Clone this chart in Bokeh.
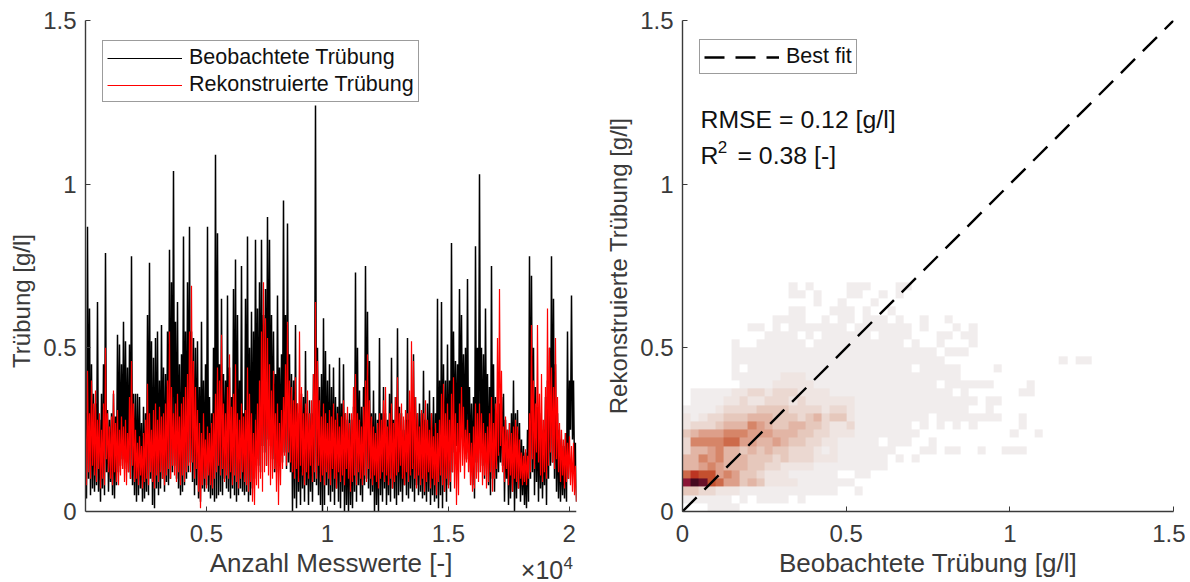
from bokeh.plotting import figure
from bokeh.layouts import row
from bokeh.models import Label, Legend, LegendItem, LinearColorMapper, Range1d
from bokeh.embed import file_html
from bokeh.resources import INLINE
import numpy as np

FONT = "Liberation Sans"
INK = "#3a3a3a"

x_span_measurements = 20300
x_ticks = [5000, 10000, 15000, 20000]
x_tick_labels = ["0.5", "1", "1.5", "2"]
y_ticks = [0, 0.5, 1, 1.5]
y_tick_labels = ["0", "0.5", "1", "1.5"]

obs_1 = [.30,.04,.87,.10,.62,.05,.45,.07,.36,.06,.33,.08,.64,.06,.28,.03,.36,.07,.45,.05,
         .79,.12,.31,.06,.28,.09,.30,.05,.36,.04,.29,.08,.54,.12,.51,.14,.45,.16,.58,.13,
         .52,.15,.44,.12,.51,.10,.78,.08,.36,.05,.36,.03,.36,.05,.35,.07,.27,.03,.32,.04,
         .30,.06,.60,.05,.76,.10,.52,.02,.47,.01,.53,.07,.55,.05,.40,.07,.57,.10,.44,.06,
         .42,.09,.55,.08,.80,.10,.70,.12,1.04,.14,.58,.10,.64,.07,.45,.05,.48,.06,.84,.08]
obs_2 = [.55,.10,.70,.12,.87,.15,.55,.09,.53,.05,.50,.08,.52,.04,.38,.03,.58,.07,.40,.06,
         .45,.08,.87,.06,.35,.04,.30,.05,.50,.03,1.09,.04,.85,.05,.45,.06,.65,.05,.42,.10,
         .40,.07,.66,.06,.44,.04,.35,.07,.68,.05,.77,.03,.60,.05,.40,.07,.75,.06,.30,.05,
         .65,.06,.84,.03,.50,.05,.61,.07,.55,.10,.83,.16,.62,.14,.70,.12,.83,.20,.60,.18,
         .68,.14,.90,.22,.83,.20,.60,.16,.55,.12,.42,.12,.66,.15,.44,.17,.48,.15,.95,.18]
obs_3 = [.60,.13,.88,.15,.48,.12,.42,.00,.40,.04,.57,.01,.33,.06,.30,.02,.36,.07,.35,.03,
         .49,.08,.30,.02,.34,.06,.30,.03,.42,.09,1.24,.08,.50,.05,.38,.02,.42,.00,.59,.02,
         .49,.08,.40,.05,.45,.03,.38,.06,.44,.02,.35,.07,.32,.03,.47,.01,.33,.06,.45,.00,
         .30,.02,.28,.00,.30,.02,.28,.01,.32,.06,.73,.03,.50,.08,.37,.05,.32,.03,.38,.08,
         .75,.10,.61,.07,.46,.05,.30,.06,.37,.00,.30,.02,.28,.00,.53,.05,.30,.03,.38,.07]
obs_4 = [.30,.02,.28,.05,.36,.03,.47,.07,.28,.04,.35,.02,.56,.05,.32,.06,.30,.03,.25,.08,
         .28,.05,.53,.04,.28,.07,.30,.06,.48,.03,.35,.08,.30,.05,.33,.06,.30,.04,.43,.05,
         .28,.03,.33,.06,.37,.02,.30,.05,.35,.03,.30,.04,.65,.01,.40,.05,.64,.01,.45,.06,
         .40,.03,.51,.08,.40,.06,.82,.12,.55,.18,.46,.20,.45,.20,.68,.24,.60,.22,.48,.20,
         .50,.16,.71,.18,.38,.12,.33,.08,.35,.04,.81,.15,.50,.12,1.03,.20,.50,.14,.48,.10]
obs_5 = [.62,.16,.42,.08,.38,.05,.75,.10,.45,.06,.35,.10,.30,.12,.33,.15,.35,.14,.36,.03,
         .28,.10,.25,.02,.27,.04,.30,.06,.40,.00,.30,.04,.31,.07,.27,.03,.22,.05,.20,.02,
         .18,.01,.25,.03,.78,.10,.72,.12,.50,.05,.38,.09,.32,.03,.30,.07,.28,.04,.25,.08,
         .35,.02,.40,.10,.50,.14,.78,.15,.65,.10,.45,.06,.30,.04,.25,.03,.22,.05,.20,.04,
         .24,.03,.55,.10,.40,.25,.66,.22,.40,.12,.21,.03]

# reconstructed turbidity, same reading
rec_1 = [.25,.08,.43,.12,.30,.10,.40,.14,.33,.11,.37,.09,.28,.13,.30,.07,.25,.10,.33,.08,
         .50,.16,.30,.12,.26,.10,.29,.08,.37,.12,.27,.09,.31,.08,.25,.11,.29,.13,.26,.09,
         .28,.08,.24,.12,.35,.10,.46,.14,.33,.09,.25,.10,.21,.08,.23,.11,.20,.07,.24,.09,
         .28,.10,.39,.08,.30,.12,.25,.09,.31,.07,.33,.11,.28,.09,.32,.12,.29,.10,.30,.08,
         .33,.11,.40,.13,.55,.10,.38,.14,.30,.11,.33,.09,.36,.12,.29,.08,.33,.11,.35,.09]
rec_2 = [.38,.12,.42,.14,.55,.12,.69,.15,.46,.10,.38,.13,.31,.06,.27,.01,.24,.08,.30,.10,
         .22,.07,.26,.11,.24,.08,.27,.07,.30,.10,.36,.12,.44,.14,.40,.11,.54,.13,.33,.09,
         .30,.11,.38,.10,.48,.12,.32,.08,.36,.11,.45,.09,.30,.07,.28,.10,.33,.12,.29,.09,
         .31,.08,.44,.06,.36,.09,.30,.03,.24,.02,.28,.08,.33,.07,.40,.10,.55,.06,.70,.12,
         .59,.14,.53,.11,.45,.08,.37,.10,.43,.13,.30,.06,.33,.02,.27,.08,.31,.13,.35,.17]
rec_3 = [.45,.14,.58,.18,.40,.15,.38,.12,.34,.10,.41,.13,.33,.09,.55,.14,.38,.11,.30,.08,
         .33,.12,.37,.10,.30,.14,.34,.09,.42,.12,.64,.10,.46,.14,.34,.09,.29,.11,.33,.08,
         .30,.12,.27,.10,.31,.08,.29,.13,.33,.10,.28,.07,.30,.12,.26,.09,.29,.11,.34,.08,
         .30,.13,.32,.10,.27,.06,.30,.09,.38,.11,.42,.08,.30,.12,.28,.10,.26,.08,.32,.11,
         .40,.09,.48,.13,.34,.10,.29,.08,.26,.11,.24,.09,.27,.07,.30,.10,.28,.12,.34,.09]
rec_4 = [.38,.11,.26,.08,.30,.10,.33,.07,.27,.09,.35,.11,.41,.12,.30,.14,.33,.10,.29,.08,
         .31,.12,.30,.09,.37,.11,.52,.13,.46,.10,.35,.07,.30,.11,.26,.08,.31,.10,.30,.06,
         .34,.09,.28,.12,.25,.07,.30,.10,.23,.08,.27,.05,.24,.09,.28,.11,.36,.08,.39,.06,
         .30,.10,.33,.07,.28,.09,.36,.12,.41,.07,.30,.02,.27,.05,.33,.12,.38,.14,.32,.10,
         .25,.15,.28,.12,.24,.08,.21,.06,.26,.07,.33,.10,.30,.09,.33,.12,.30,.08,.27,.11]
rec_5 = [.24,.07,.26,.09,.30,.12,.35,.06,.27,.10,.33,.13,.53,.17,.68,.20,.43,.12,.26,.09,
         .29,.13,.25,.08,.27,.11,.24,.06,.26,.10,.28,.09,.26,.07,.22,.10,.18,.08,.17,.09,
         .19,.08,.17,.10,.30,.12,.57,.16,.40,.13,.33,.18,.57,.15,.36,.11,.42,.09,.28,.12,
         .38,.10,.62,.14,.50,.18,.44,.15,.38,.13,.53,.16,.35,.12,.27,.09,.25,.11,.22,.07,
         .24,.09,.21,.10,.23,.08,.20,.06,.21,.05,.14,.03]

obs_series = obs_1 + obs_2 + obs_3 + obs_4 + obs_5
rec_series = rec_1 + rec_2 + rec_3 + rec_4 + rec_5

# density levels per 0.025 g/l cell, first row at the bottom
d00 = [0,0,0,1,1,1,1]
d01 = [1,1,1,1,1,1,0,1,0,1,1,1,1,0,1]
d02 = [4,4,3,3,2,2,2,1,1,1,1,1,1,1,1,1,1,1,1,0,0,1]
d03 = [11,13,12,9,8,6,6,4,5,4,2,2,2,2,1,1,1,1,1,1,1]
d04 = [8,10,9,9,6,7,6,4,4,3,2,2,2,1,1,1,1,1,1,0,0,1,1]
d05 = [5,5,6,7,6,5,5,5,4,4,3,3,2,2,2,2,1,1,1,1,1,1,1,1,1]
d06 = [5,5,7,6,7,5,5,5,4,4,4,3,4,3,3,3,2,2,2,1,1,1,1,1,1,0,1,0,1]
d07 = [3,5,5,6,7,5,5,4,5,4,5,4,4,3,3,3,2,1,2,1,1,1,1,1,1,1,0,0,0,1,1,0,1,1,0,0,1,0,0,1,1,1]
d08 = [3,7,7,7,7,8,8,6,6,5,5,6,5,4,4,3,3,2,2,1,1,1,1,1,0,1,1,1,0,0,1]
d09 = [4,5,6,6,6,7,7,7,6,6,6,5,5,5,4,4,3,3,2,2,2,1,1,1,1,1,1,1,1,0,0,0,0,0,0,0,0,0,0,0,1,0,0,1]
d10 = [2,3,3,3,4,5,5,5,7,6,5,4,4,5,5,4,4,3,2,2,3,1,1,1,1,1,1,1,0,1,0,1,0,1,0,1,0,0,0,0,0,1]
d11 = [2,1,2,3,3,4,4,4,5,5,5,4,4,4,3,4,5,3,4,4,2,1,1,1,1,1,1,1,1,1,0,1,1,1,1,1,1,1,1,0,0,1]
d12 = [1,1,1,1,2,3,3,3,3,4,4,4,4,3,3,3,3,2,3,3,2,1,1,1,1,1,1,1,1,1,1,1,1,1,1,0,0,1]
d13 = [0,1,1,1,1,2,2,3,2,2,3,3,3,2,3,2,2,2,2,2,2,1,1,1,1,1,1,1,1,1,1,1,1,1,1,1,0,1,1]
d14 = [0,1,1,1,1,1,2,2,3,3,2,3,3,3,2,2,2,2,1,1,1,1,1,1,1,1,1,1,1,1,1,1,1,0,1,0,0,0,0,0,0,1,1]
d15 = [0,0,0,0,0,0,0,1,1,1,1,2,2,2,2,2,1,1,1,1,1,1,1,1,1,1,1,1,1,1,1,0,1,1,1,1,1,1,0,0,0,0,1]
d16 = [0,0,0,0,0,0,1,1,1,1,1,1,2,2,2,1,1,1,1,1,1,1,1,1,1,1,1,1,1,1,1,1,1,1]
d17 = [0,0,0,0,0,0,1,0,1,1,1,1,1,1,1,1,1,1,1,1,1,1,1,1,1,1,1,1,0,1,1,1,1,1,0,0,0,0,1]
d18 = [0,0,0,0,0,0,1,1,1,1,1,1,1,1,1,1,1,1,1,1,1,1,1,1,1,1,1,1,1,1,1,1,0,0,0,0,0,0,0,0,0,0,0,0,0,0,1,0,1,1]
d19 = [0,0,0,0,0,0,1,1,1,1,1,1,1,1,1,1,1,1,1,1,1,1,1,1,1,1,1,1,1,1,1,0,1,1,1]
d20 = [0,0,0,0,0,0,1,0,0,1,1,1,1,1,1,0,1,1,1,1,1,1,1,1,1,1,1,0,1,0,0,1,0,0,0,1]
d21 = [0,0,0,0,0,0,0,0,0,0,1,1,1,1,0,1,0,1,1,1,1,1,1,0,1,1,1,1,0,0,0,1,1,0,1,1]
d22 = [0,0,0,0,0,0,0,0,1,1,0,1,0,1,1,1,1,1,1,1,0,1,1,1,1,1,1,1,0,1,0,0,0,1,0,1]
d23 = [0,0,0,0,0,0,0,0,0,0,0,1,1,1,1,0,0,1,0,1,1,0,1,1,1,0,1,0,0,1,0,0,1]
d24 = [0,0,0,0,0,0,0,0,0,0,0,0,0,1,1,0,0,0,1,1,1,0,1,0,0,1]
d25 = [0,0,0,0,0,0,0,0,0,0,0,0,0,0,0,0,1,0,0,1,0,0,0,1]
d26 = [0,0,0,0,0,0,0,0,0,0,0,0,0,1,1,0,1,0,0,0,1,1,0,0,1,0,1]
d27 = [0,0,0,0,0,0,0,0,0,0,0,0,0,1,0,1,0,0,0,0,1,1,1,0,0,0,1,1]
density_rows = [d00,d01,d02,d03,d04,d05,d06,d07,d08,d09,d10,d11,d12,d13,d14,d15,d16,d17,d18,d19,d20,d21,d22,d23,d24,d25,d26,d27]
density_palette = ["#ffffff","#f1eded","#efe5e2","#ebd8d1","#e6c8bc","#e2b5a5","#dd9f8a","#d68568",
                   "#cd6a4a","#c4502f","#bc3522","#8b1535","#681029","#45091f"]
cell_size = 0.025

best_fit_x = [0, 1.5]
best_fit_y = [0, 1.5]

def style(p):
    for ax in (p.xaxis[0], p.yaxis[0]):
        ax.axis_line_color = INK
        ax.axis_line_width = 1.4
        ax.major_tick_line_color = INK
        ax.major_tick_line_width = 1
        ax.major_tick_in = 5
        ax.major_tick_out = 0
        ax.minor_tick_line_color = None
        ax.major_label_text_font = FONT
        ax.major_label_text_font_size = "24px"
        ax.major_label_text_color = INK
        ax.axis_label_text_font = FONT
        ax.axis_label_text_font_style = "normal"
        ax.axis_label_text_color = INK
    p.xaxis[0].axis_label_text_font_size = "26px"
    p.yaxis[0].axis_label_text_font_size = "24px"
    p.yaxis[0].major_label_standoff = 9
    p.xaxis[0].major_label_standoff = 13
    p.xaxis[0].axis_label_standoff = 3
    p.grid.visible = False
    p.outline_line_color = None
    p.background_fill_color = "white"

def piece(p, x, y, text, size, color, align="left"):
    p.add_layout(Label(x=x, y=y, text=text, text_font=FONT, text_font_size=size,
                       text_color=color, text_align=align, text_baseline="middle"))

# left panel: the frame runs to the canvas foot so that the x10^4 note can lie inside it,
# and the x axis stays fixed at zero
y_foot = -70 * 1.5 / 491
n = len(obs_series)
xs = np.arange(n) * x_span_measurements / (n - 1)
left = figure(width=595, height=581, output_backend="svg", toolbar_location=None,
              x_range=Range1d(0, x_span_measurements), y_range=Range1d(y_foot, 1.5),
              frame_width=491, frame_height=561, min_border_left=85, min_border_top=20,
              min_border_bottom=0, min_border_right=19)
left.line(xs, obs_series, line_color="#000000", line_width=1.5)
left.line(xs, rec_series, line_color="#ff0000", line_width=1.2)
key_obs = left.line([-5000, -4000], [1, 1], line_color="#000000", line_width=1)
key_rec = left.line([-5000, -4000], [1, 1], line_color="#ff0000", line_width=1)
left.xaxis[0].ticker = x_ticks
left.xaxis[0].major_label_overrides = dict(zip(x_ticks, x_tick_labels))
left.xaxis[0].fixed_location = 0
left.yaxis[0].ticker = y_ticks
left.yaxis[0].major_label_overrides = dict(zip(y_ticks, y_tick_labels))
left.yaxis[0].bounds = (0, 1.5)
left.xaxis[0].axis_label = "Anzahl Messwerte [-]"
left.yaxis[0].axis_label = "Trübung [g/l]"
style(left)
piece(left, 18000, -0.18, "×10", "25px", INK)
piece(left, 19760, -0.158, "4", "17px", INK)
leg1 = Legend(items=[LegendItem(label="Beobachtete Trübung", renderers=[key_obs]),
                     LegendItem(label="Rekonstruierte Trübung", renderers=[key_rec])],
              location=(17, 479), orientation="vertical")

# right panel
mapper = LinearColorMapper(palette=density_palette, low=-0.5, high=13.5)
ncols = max(len(r) for r in density_rows)
grid = np.array([r + [0] * (ncols - len(r)) for r in density_rows], dtype=float)
right = figure(width=590, height=581, output_backend="svg", toolbar_location=None,
               x_range=Range1d(0, 1.5), y_range=Range1d(0, 1.5),
               frame_width=491, frame_height=491, min_border_left=87, min_border_top=20,
               min_border_bottom=70, min_border_right=12)
right.image(image=[grid], x=0, y=0, dw=ncols * cell_size, dh=len(density_rows) * cell_size,
            color_mapper=mapper)
l_fit = right.line(best_fit_x, best_fit_y, line_color="#000000", line_width=2.4, line_dash="20 11")
right.xaxis[0].ticker = y_ticks
right.xaxis[0].major_label_overrides = dict(zip(y_ticks, y_tick_labels))
right.yaxis[0].ticker = y_ticks
right.yaxis[0].major_label_overrides = dict(zip(y_ticks, y_tick_labels))
right.xaxis[0].axis_label = "Beobachtete Trübung [g/l]"
right.yaxis[0].axis_label = "Rekonstruierte Trübung [g/l]"
style(right)
piece(right, 0.055, 1.198, "RMSE = 0.12 [g/l]", "24.8px", "#111111")
piece(right, 0.055, 1.088, "R", "24.8px", "#111111")
piece(right, 0.108, 1.114, "2", "17px", "#111111")
piece(right, 0.168, 1.088, "= 0.38 [-]", "24.8px", "#111111")
leg2 = Legend(items=[LegendItem(label="Best fit", renderers=[l_fit])],
              location=(17, 437), orientation="vertical")

for lg, p in ((leg1, left), (leg2, right)):
    lg.border_line_color = INK
    lg.border_line_width = 1
    lg.background_fill_alpha = 1
    lg.label_text_font = FONT
    lg.label_text_font_size = "21.5px"
    lg.label_text_color = "#111111"
    lg.glyph_width = 75
    lg.glyph_height = 20
    lg.label_standoff = 7
    lg.padding = 4
    lg.margin = 0
    lg.spacing = 2
    lg.label_height = 22
    p.add_layout(lg)

open("out.html", "w").write(file_html(row(left, right, spacing=0), INLINE))
